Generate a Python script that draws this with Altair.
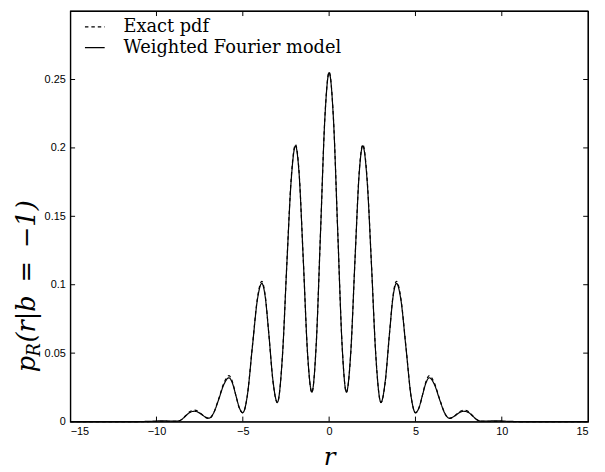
import altair as alt
import pandas as pd

# ---- data ----
r_vals = [-15, -14, -13, -12, -11, -10.5, -9.7, -9.3, -8.8, -8.55, -8.3, -8.1,
          -7.8, -7.6, -7.4, -7.2, -6.95, -6.7, -6.4, -6.1, -5.8, -5.6, -5.4, -5.2,
          -5.0, -4.75, -4.45, -4.15, -3.9, -3.7, -3.5, -3.25, -3.0, -2.7, -2.45, -2.2,
          -1.95, -1.75, -1.5, -1.25, -1.0, -0.75, -0.5, -0.25,
          0,
          0.25, 0.5, 0.75, 1.0, 1.25, 1.5, 1.75, 1.95,
          2.2, 2.45, 2.7, 3.0, 3.25, 3.5, 3.7, 3.9, 4.15, 4.45, 4.75, 5.0,
          5.2, 5.4, 5.6, 5.8, 6.1, 6.4, 6.7, 6.95, 7.2, 7.4, 7.6, 7.8,
          8.1, 8.3, 8.55, 8.8, 9.3, 9.7, 10.5, 11, 12, 13, 14, 15]

model_vals = [0, 0, 0, 0, 0, 0.0001, 0.0005, 0.0004, 0.0003, 0.0014, 0.0042, 0.0064,
              0.0075, 0.0069, 0.0053, 0.0035, 0.0025, 0.006, 0.016, 0.027, 0.032, 0.028, 0.019, 0.010,
              0.0065, 0.018, 0.054, 0.0895, 0.101, 0.091, 0.065, 0.0295, 0.014, 0.049, 0.115, 0.176,
              0.2015, 0.183, 0.119, 0.050, 0.0215, 0.056, 0.138, 0.221,
              0.255,
              0.221, 0.138, 0.056, 0.0215, 0.050, 0.119, 0.183, 0.2015,
              0.176, 0.115, 0.049, 0.014, 0.0295, 0.065, 0.091, 0.101, 0.0895, 0.054, 0.018, 0.0065,
              0.010, 0.019, 0.028, 0.032, 0.027, 0.016, 0.006, 0.0025, 0.0035, 0.0053, 0.0069, 0.0075,
              0.0064, 0.0042, 0.0014, 0.0003, 0.0004, 0.0005, 0.0001, 0, 0, 0, 0, 0]

exact_vals = [0, 0, 0, 0, 0, 0, 0.0001, 0.0001, 0.0002, 0.0014, 0.0044, 0.0070,
              0.0083, 0.0075, 0.0055, 0.0033, 0.0022, 0.006, 0.0165, 0.028, 0.0335, 0.029, 0.019, 0.0098,
              0.0063, 0.018, 0.0545, 0.0905, 0.1025, 0.092, 0.065, 0.029, 0.0138, 0.049, 0.1155, 0.1775,
              0.2025, 0.184, 0.119, 0.0495, 0.0213, 0.056, 0.138, 0.2215,
              0.2555,
              0.2215, 0.138, 0.056, 0.0213, 0.0495, 0.119, 0.184, 0.2025,
              0.1775, 0.1155, 0.049, 0.0138, 0.029, 0.065, 0.092, 0.1025, 0.0905, 0.0545, 0.018, 0.0063,
              0.0098, 0.019, 0.029, 0.0335, 0.028, 0.0165, 0.006, 0.0022, 0.0033, 0.0055, 0.0075, 0.0083,
              0.0070, 0.0044, 0.0014, 0.0002, 0.0001, 0.0001, 0, 0, 0, 0, 0, 0]

series_names = ["Exact pdf", "Weighted Fourier model"]
x_ticks = [-15, -10, -5, 0, 5, 10, 15]
x_inner_ticks = [-10, -5, 0, 5, 10]
y_ticks = [0, 0.05, 0.1, 0.15, 0.2, 0.25]
y_inner_ticks = [0.05, 0.1, 0.15, 0.2, 0.25]

W, H = 525, 416
SERIF = "DejaVu Serif"
SANS = "Liberation Sans"

df = pd.concat([
    pd.DataFrame({"r": r_vals, "p": model_vals, "series": series_names[1]}),
    pd.DataFrame({"r": r_vals, "p": exact_vals, "series": series_names[0]}),
])

xs = alt.Scale(domain=[-15, 15], nice=False, zero=False)
ys = alt.Scale(domain=[0, 0.3], nice=False, zero=False)

lines = alt.Chart(df).mark_line(color="black", strokeWidth=1.2, interpolate="monotone").encode(
    x=alt.X("r:Q", scale=xs,
            axis=alt.Axis(values=x_ticks, ticks=False, grid=False, labelFont=SANS, labelFontSize=11,
                          labelColor="black", labelPadding=4, domain=True, domainColor="black",
                          domainWidth=1.2,
                          title="r", titleFont=SERIF, titleFontStyle="italic", titleFontWeight="normal",
                          titleFontSize=25, titleColor="black", titlePadding=9)),
    y=alt.Y("p:Q", scale=ys,
            axis=alt.Axis(values=y_ticks, format="~g", ticks=False, grid=False, labelFont=SANS,
                          labelFontSize=11, labelColor="black", labelPadding=5, domain=True,
                          domainColor="black", domainWidth=1.2, title=None)),
    strokeDash=alt.StrokeDash("series:N",
                              scale=alt.Scale(domain=series_names, range=[[3.5, 3], [1, 0]]),
                              legend=alt.Legend(title=None, orient="none", legendX=14, legendY=5,
                                                symbolType="stroke", symbolSize=400, symbolStrokeWidth=1.2,
                                                symbolStrokeColor="black", labelFont=SERIF, labelFontSize=18,
                                                labelColor="black", labelOffset=18, rowPadding=1, padding=0,
                                                labelLimit=0)),
    order=alt.Order("series:N", sort="descending"),
)

xt = pd.DataFrame({"r": x_inner_ticks})
yt = pd.DataFrame({"p": y_inner_ticks})
tick_bottom = alt.Chart(xt).mark_rule(color="black", strokeWidth=1).encode(
    x=alt.X("r:Q", scale=xs), y=alt.value(H), y2=alt.value(H - 5))
tick_top = alt.Chart(xt).mark_rule(color="black", strokeWidth=1).encode(
    x=alt.X("r:Q", scale=xs), y=alt.value(0), y2=alt.value(5))
tick_left = alt.Chart(yt).mark_rule(color="black", strokeWidth=1).encode(
    y=alt.Y("p:Q", scale=ys), x=alt.value(0), x2=alt.value(5))
tick_right = alt.Chart(yt).mark_rule(color="black", strokeWidth=1).encode(
    y=alt.Y("p:Q", scale=ys), x=alt.value(W - 5), x2=alt.value(W))

# top and right edges of the box
frame_df = pd.DataFrame({"edge": ["top"]})
frame_top = alt.Chart(frame_df).mark_rule(color="black", strokeWidth=1.2).encode(
    x=alt.value(0), x2=alt.value(W), y=alt.value(0))
frame_right = alt.Chart(frame_df).mark_rule(color="black", strokeWidth=1.2).encode(
    x=alt.value(W), y=alt.value(0), y2=alt.value(H))

# y-axis title built from pieces (subscript R)
title_p = alt.Chart(pd.DataFrame({"t": ["p"]})).mark_text(
    angle=270, align="left", baseline="alphabetic", font=SERIF, fontStyle="italic",
    fontSize=26, color="black").encode(text="t:N", x=alt.value(-36), y=alt.value(366))
title_R = alt.Chart(pd.DataFrame({"t": ["R"]})).mark_text(
    angle=270, align="left", baseline="alphabetic", font=SERIF, fontStyle="italic",
    fontSize=18, color="black").encode(text="t:N", x=alt.value(-31), y=alt.value(350))
title_rest = alt.Chart(pd.DataFrame({"t": ["(r|b\u2002=\u2002−1)"]})).mark_text(
    angle=270, align="left", baseline="alphabetic", font=SERIF, fontStyle="italic",
    fontSize=26, color="black").encode(text="t:N", x=alt.value(-36), y=alt.value(336))

chart = alt.layer(lines, tick_bottom, tick_top, tick_left, tick_right, frame_top, frame_right,
                  title_p, title_R, title_rest).properties(
    width=W, height=H,
    autosize=alt.AutoSizeParams(type="none"),
    padding={"left": 63, "top": 0, "right": 9, "bottom": 48},
).configure(background="white").configure_view(stroke="black", strokeWidth=1.2)

chart.save("out.html", embed_options={"renderer": "svg", "actions": False})
